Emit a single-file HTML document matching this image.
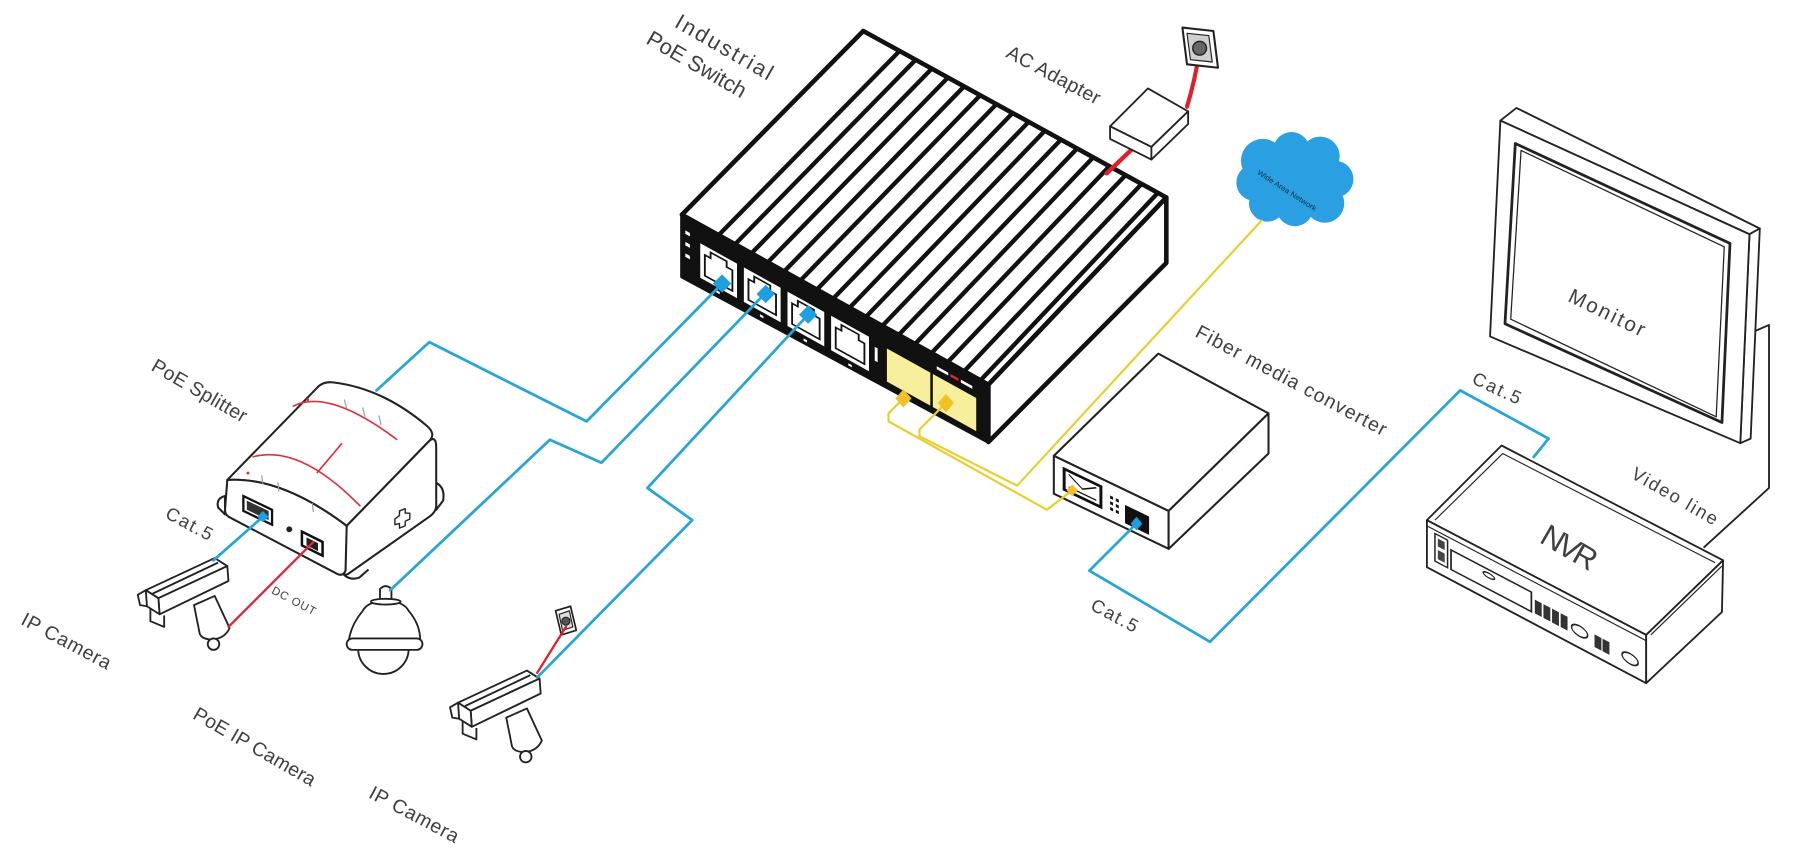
<!DOCTYPE html>
<html>
<head>
<meta charset="utf-8">
<style>
html,body{margin:0;padding:0;background:#fff;}
svg{display:block;}
text{font-family:"Liberation Sans",sans-serif;fill:#404040;}
</style>
</head>
<body>
<svg width="1800" height="860" viewBox="0 0 1568 749" preserveAspectRatio="none" xmlns="http://www.w3.org/2000/svg">
<rect x="0" y="0" width="1568" height="749" fill="#fff"/>

<!-- ================= INDUSTRIAL POE SWITCH ================= -->
<polygon points="594,187 752,27 1016,172 861,335" fill="#fff" stroke="#111" stroke-width="4" stroke-linejoin="round"/>
<g stroke="#111" stroke-width="3.8">
<line x1="626.0" y1="204.8" x2="783.6" y2="44.4"/>
<line x1="640.3" y1="212.7" x2="797.6" y2="52.1"/>
<line x1="654.6" y1="220.6" x2="811.6" y2="59.9"/>
<line x1="668.8" y1="228.5" x2="825.7" y2="67.6"/>
<line x1="683.1" y1="236.4" x2="839.7" y2="75.4"/>
<line x1="697.3" y1="244.3" x2="853.8" y2="83.1"/>
<line x1="711.6" y1="252.2" x2="867.8" y2="90.9"/>
<line x1="725.8" y1="260.1" x2="881.9" y2="98.6"/>
<line x1="740.1" y1="268.0" x2="895.9" y2="106.3"/>
<line x1="754.4" y1="275.9" x2="910.0" y2="114.1"/>
<line x1="768.6" y1="283.8" x2="924.0" y2="121.8"/>
<line x1="782.9" y1="291.7" x2="938.0" y2="129.6"/>
<line x1="797.1" y1="299.6" x2="952.1" y2="137.3"/>
<line x1="811.4" y1="307.5" x2="966.1" y2="145.1"/>
<line x1="825.6" y1="315.4" x2="980.2" y2="152.8"/>
<line x1="839.9" y1="323.3" x2="994.2" y2="160.5"/>
<line x1="854.2" y1="331.2" x2="1008.3" y2="168.3"/>
</g>
<polygon points="861,335 1016,172 1016,229 861,385" fill="#fff" stroke="#111" stroke-width="4" stroke-linejoin="round"/>
<polygon points="594,187 861,335 861,385 594,241" fill="#111" stroke="#111" stroke-width="3" stroke-linejoin="round"/>
<g transform="matrix(1,0.554,0,1,594,187)">
  <!-- LEDs -->
  <rect x="3" y="12" width="4" height="3" fill="#fff"/>
  <rect x="3" y="22" width="4" height="3" fill="#fff"/>
  <rect x="3" y="32" width="4" height="3" fill="#fff"/>
  <!-- RJ45 ports -->
  <g transform="translate(16,0)">
    <rect x="0" y="16" width="32" height="30" fill="#fff"/>
    <path d="M4,42 V24 H9 V19 H23 V24 H28 V42 Z" fill="none" stroke="#111" stroke-width="1.6"/>
  </g>
  <g transform="translate(54,0)">
    <rect x="0" y="16" width="32" height="30" fill="#fff"/>
    <path d="M4,42 V24 H9 V19 H23 V24 H28 V42 Z" fill="none" stroke="#111" stroke-width="1.6"/>
  </g>
  <g transform="translate(92,0)">
    <rect x="0" y="16" width="32" height="30" fill="#fff"/>
    <path d="M4,42 V24 H9 V19 H23 V24 H28 V42 Z" fill="none" stroke="#111" stroke-width="1.6"/>
  </g>
  <g transform="translate(130,0)">
    <rect x="0" y="16" width="33" height="30" fill="#fff"/>
    <path d="M4,42 V24 H9 V19 H24 V24 H29 V42 Z" fill="none" stroke="#111" stroke-width="1.6"/>
  </g>
  <rect x="30" y="49" width="3" height="2" fill="#fff"/>
  <rect x="68" y="49" width="3" height="2" fill="#fff"/>
  <rect x="106" y="49" width="3" height="2" fill="#fff"/>
  <rect x="145" y="49" width="3" height="2" fill="#fff"/>
  <rect x="168" y="22" width="2.5" height="12" fill="#fff"/>
  <!-- SFP -->
  <rect x="178" y="17" width="39" height="30" fill="#f7ef9c" stroke="#111" stroke-width="1.2"/>
  <rect x="218" y="17" width="39" height="30" fill="#f7ef9c" stroke="#111" stroke-width="1.2"/>
  <rect x="222" y="9" width="10" height="2.5" fill="#fff"/>
  <rect x="234" y="9" width="7" height="2.5" fill="#d8282c"/>
  <rect x="243" y="9" width="10" height="2.5" fill="#fff"/>
</g>

<!-- ================= AC ADAPTER ================= -->
<path d="M1045,44 Q1041,70 1034,93" fill="none" stroke="#e02028" stroke-width="3.6" stroke-linecap="round"/>
<path d="M985,131 L964,151" fill="none" stroke="#e02028" stroke-width="3.8" stroke-linecap="round"/>
<g fill="#fff" stroke="#222" stroke-width="1.6" stroke-linejoin="round">
  <polygon points="967,110 1000,77 1035,97 1003,128"/>
  <polygon points="967,110 1003,128 1003,139 967,121"/>
  <polygon points="1003,128 1035,97 1035,108 1003,139"/>
</g>
<g stroke="#222" stroke-linejoin="round">
  <polygon points="1030,24 1057,27 1061,59 1034,56" fill="#fff" stroke-width="1.8"/>
  <polygon points="1034,29 1053,31 1056,54 1037,52" fill="#cfcfcf" stroke-width="1"/>
  <circle cx="1045" cy="42" r="6" fill="#666" stroke-width="1.2"/>
</g>

<!-- ================= CLOUD ================= -->
<g fill="#2a9fe2">
  <circle cx="1128" cy="157" r="30"/>
  <circle cx="1100" cy="140" r="19"/>
  <circle cx="1125" cy="131" r="16"/>
  <circle cx="1150" cy="136" r="17"/>
  <circle cx="1163" cy="156" r="16"/>
  <circle cx="1154" cy="177" r="17"/>
  <circle cx="1128" cy="181" r="16"/>
  <circle cx="1104" cy="177" r="16"/>
  <circle cx="1093" cy="159" r="16"/>
</g>
<text transform="translate(1121,166) rotate(33)" text-anchor="middle" y="2" font-size="6.5" textLength="60" lengthAdjust="spacingAndGlyphs" style="fill:#10304a">Wide Area Network</text>

<!-- ================= FIBER MEDIA CONVERTER ================= -->
<g fill="#fff" stroke="#222" stroke-width="1.8" stroke-linejoin="round">
  <polygon points="918,397 1009,308 1105,360 1018,445"/>
  <polygon points="918,397 1018,445 1018,478 918,430"/>
  <polygon points="1018,445 1105,360 1105,395 1018,478"/>
</g>
<g transform="matrix(1,0.48,0,1,918,397)">
  <rect x="9" y="7" width="32" height="18" fill="#fff" stroke="#111" stroke-width="2.6"/>
  <path d="M13,10 L25,17 L37,10 M13,21 L37,21" stroke="#111" stroke-width="1.2" fill="none"/>
  <rect x="49" y="11" width="2.6" height="2.6" fill="#111"/>
  <rect x="54" y="11" width="2.6" height="2.6" fill="#111"/>
  <rect x="49" y="16" width="2.6" height="2.6" fill="#111"/>
  <rect x="54" y="16" width="2.6" height="2.6" fill="#111"/>
  <rect x="49" y="21" width="2.6" height="2.6" fill="#111"/>
  <rect x="54" y="21" width="2.6" height="2.6" fill="#111"/>
  <rect x="62" y="13" width="21" height="16" fill="#111"/>
</g>

<!-- ================= MONITOR ================= -->
<path d="M1525,290 L1541,283 L1541,425 L1484,477" fill="none" stroke="#222" stroke-width="1.6" stroke-linejoin="round"/>
<g fill="#fff" stroke="#222" stroke-width="1.6" stroke-linejoin="round">
  <polygon points="1307,105 1321,94 1533,199 1524,204"/>
  <polygon points="1524,204 1533,199 1525,382 1516,386"/>
  <polygon points="1307,105 1524,204 1516,386 1298,293"/>
  <polygon points="1320,125 1507,212 1500,368 1311,282" stroke-width="2.4"/>
  <polygon points="1325,131 1502,215 1495,363 1316,278" stroke-width="1.1"/>
</g>

<!-- ================= NVR ================= -->
<g fill="#fff" stroke="#222" stroke-width="1.6" stroke-linejoin="round">
  <polygon points="1308,388 1501,488 1434,553 1243,453"/>
  <polygon points="1243,453 1434,553 1434,595 1243,494"/>
  <polygon points="1434,553 1501,488 1500,533 1434,595"/>
</g>
<g fill="none" stroke="#222" stroke-width="1">
  <polyline points="1250,453 1309,395 1494,490"/>
  <line x1="1243" y1="458" x2="1434" y2="558"/>
  <line x1="1438" y1="553" x2="1500" y2="493"/>
</g>
<g transform="matrix(1,0.524,0,1,1243,453)" stroke="#222">
  <rect x="7" y="8" width="11" height="24" fill="#fff" stroke-width="1.3"/>
  <rect x="9.5" y="11" width="6" height="7" fill="#444" stroke="none"/>
  <rect x="9.5" y="21" width="6" height="8" fill="#444" stroke="none"/>
  <rect x="21" y="15" width="70" height="17" fill="none" stroke-width="1.5"/>
  <ellipse cx="54" cy="20" rx="5" ry="2" fill="none" stroke-width="1.2"/>
  <rect x="94" y="20" width="6" height="12" fill="#333" stroke="none"/>
  <rect x="101.5" y="20" width="6" height="12" fill="#333" stroke="none"/>
  <rect x="109" y="20" width="6" height="12" fill="#333" stroke="none"/>
  <rect x="116.5" y="20" width="6" height="12" fill="#333" stroke="none"/>
  <ellipse cx="133" cy="27" rx="7" ry="4.5" fill="none" stroke-width="1.3"/>
  <rect x="146" y="23" width="6" height="11" fill="#333" stroke="none"/>
  <rect x="153" y="23" width="6" height="11" fill="#333" stroke="none"/>
  <ellipse cx="177" cy="28" rx="7" ry="4.5" fill="none" stroke-width="1.3"/>
</g>

<!-- ================= POE SPLITTER ================= -->
<g fill="#fff" stroke="#222" stroke-width="1.8" stroke-linejoin="round">
  <path d="M196,432 Q188,434 190,442 L196,448 Z"/>
  <path d="M379,420 Q388,424 386,436 L380,444 Z"/>
  <path d="M198,418 L276,338 Q281,332 290,333 Q333,338 372,371 Q380,378 374,384 L302,458 Q245,415 198,418 Z"/>
  <path d="M302,458 L374,384 Q380,379 380,390 L380,440 Q380,446 374,450 L303,500 Q299,502 299,496 Z"/>
  <path d="M198,418 Q245,415 302,458 L301,497 Q299,502 294,500 L199,450 Q196,448 196,444 Z"/>
  <path d="M299,500 Q305,506 313,503 L321,496" fill="none"/>
  <path d="M344,452 l4,-3 l0,-4 l5,-2 l0,4 l4,0 l0,5 l-4,2 l0,4 l-5,2 l0,-4 l-4,1 Z" stroke-width="1.2"/>
</g>
<g fill="none" stroke="#d8323c" stroke-width="1.4">
  <path d="M255,354 Q285.5,337.5 346,383"/>
  <path d="M220,398 Q261,386.5 314,441"/>
  <path d="M276,412 L298,386"/>
</g>
<circle cx="216" cy="412" r="1.3" fill="#d8323c"/>
<circle cx="268" cy="348" r="1.3" fill="#d8323c"/>
<g stroke="#9a9a9a" stroke-width="1">
  <line x1="300" y1="348" x2="302" y2="356"/>
  <line x1="316" y1="355" x2="318" y2="363"/>
  <line x1="330" y1="362" x2="332" y2="370"/>
  <line x1="228" y1="414" x2="229" y2="422"/>
  <line x1="242" y1="420" x2="243" y2="428"/>
  <line x1="272" y1="438" x2="273" y2="446"/>
</g>
<polygon points="212,432 237,444 237,457 212,445" fill="#fff" stroke="#111" stroke-width="2"/>
<polygon points="215,436 234,445 234,453 215,444" fill="#333"/>
<circle cx="252" cy="461" r="2.6" fill="#222"/>
<polygon points="263,463 281,472 281,484 263,475" fill="#fff" stroke="#111" stroke-width="2.2"/>
<polygon points="267,468 277,473 277,480 267,475" fill="#222"/>

<!-- ================= CAMERAS ================= -->
<g fill="#fff" stroke="#222" stroke-width="1.6" stroke-linejoin="round">
  <path d="M169,527 L187,519 L200,547 Q196,556 185,557 Q176,557 174,552 Z"/>
  <circle cx="186" cy="561" r="5"/>
  <polygon points="127,514 187,486 198,493 138,521"/>
  <polygon points="138,521 198,493 199,506 139,535"/>
  <polygon points="127,514 138,521 139,535 128,528"/>
  <path d="M127,514 L120,518 L122,527 L128,528" fill="none"/>
  <path d="M131,530 L131,541 L143,546 L143,536" fill="none"/>
  <line x1="133" y1="517" x2="190" y2="490"/>
</g>
<g transform="translate(272,98)" fill="#fff" stroke="#222" stroke-width="1.6" stroke-linejoin="round">
  <path d="M169,527 L187,519 L200,547 Q196,556 185,557 Q176,557 174,552 Z"/>
  <circle cx="186" cy="561" r="5"/>
  <polygon points="127,514 187,486 198,493 138,521"/>
  <polygon points="138,521 198,493 199,506 139,535"/>
  <polygon points="127,514 138,521 139,535 128,528"/>
  <path d="M127,514 L120,518 L122,527 L128,528" fill="none"/>
  <path d="M131,530 L131,541 L143,546 L143,536" fill="none"/>
  <line x1="133" y1="517" x2="190" y2="490"/>
</g>
<!-- dome -->
<g fill="#fff" stroke="#222" stroke-width="1.6" stroke-linejoin="round">
  <path d="M312,565 A22,22 0 0 0 356,565 Z"/>
  <path d="M304,557 Q306,544 316,532 Q320,524 336,523 Q352,524 356,532 Q366,544 366,557 Z"/>
  <rect x="302" y="556" width="66" height="10" rx="5"/>
  <path d="M331,523 L331,513 Q336,508 341,513 L341,523"/>
  <ellipse cx="336" cy="524" rx="13" ry="2.5"/>
</g>
<!-- camera outlet -->
<g stroke="#222" stroke-linejoin="round">
  <polygon points="484,532 497,528 502,549 489,553" fill="#fff" stroke-width="1.5"/>
  <polygon points="487,535 496,532 499,546 490,549" fill="#ddd" stroke-width="1"/>
  <circle cx="493" cy="541" r="3.5" fill="#555" stroke-width="1"/>
</g>

<!-- ================= CABLES ================= -->
<g fill="none" stroke-linejoin="round" stroke-linecap="round">
  <!-- red -->
  <path d="M273,472 L199,546" stroke="#d8283a" stroke-width="2"/>
  <path d="M493,546 Q481,565 468,586" stroke="#e02028" stroke-width="2"/>
  <!-- blue -->
  <g stroke="#27a6d6" stroke-width="2.4">
    <polyline points="328,340 374,298 511,367 629,247"/>
    <polyline points="340,514 479,383 524,403 668,254"/>
    <polyline points="704,274 564,425 603,453 468,590"/>
    <polyline points="229,450 186,488"/>
    <polyline points="990,456 949,497 1054,559 1272,340 1349,382 1336,398"/>
  </g>
  <!-- yellow -->
  <g stroke="#e8cf2e" stroke-width="1.9">
    <polyline points="787,347 774,360 774,367 912,444 934,427"/>
    <polyline points="824,351 801,374 801,380 886,423 1099,192"/>
  </g>
</g>

<!-- connectors -->
<g fill="#1e9fe0">
  <polygon points="629,239 637,247 629,255 621,247"/>
  <polygon points="667,248 675,256 667,264 659,256"/>
  <polygon points="704,266 712,274 704,282 696,274"/>
  <polygon points="990,450 995,456 990,462 985,456"/>
  <polygon points="229,445 234,450 229,455 224,450"/>
</g>
<g fill="#f2c125">
  <polygon points="787,339 794,347 787,355 780,347"/>
  <polygon points="824,343 831,351 824,359 817,351"/>
  <polygon points="934,422 939,427 934,432 929,427"/>
</g>

<!-- ================= LABELS ================= -->
<text transform="translate(631,41) rotate(30)" text-anchor="middle" y="6.5" font-size="19" textLength="95" lengthAdjust="spacing">Industrial</text>
<text transform="translate(607,56) rotate(30)" text-anchor="middle" y="6.5" font-size="19" textLength="97" lengthAdjust="spacing">PoE Switch</text>
<text transform="translate(918,65) rotate(28)" text-anchor="middle" y="6" font-size="17" textLength="90" lengthAdjust="spacing">AC Adapter</text>
<text transform="translate(174,340) rotate(30)" text-anchor="middle" y="6" font-size="17" textLength="93" lengthAdjust="spacing">PoE Splitter</text>
<text transform="translate(165,456) rotate(28)" text-anchor="middle" y="5.5" font-size="16" textLength="44" lengthAdjust="spacing">Cat.5</text>
<text transform="translate(256,523) rotate(28)" text-anchor="middle" y="3.5" font-size="10" textLength="42" lengthAdjust="spacing">DC OUT</text>
<text transform="translate(58,558) rotate(28)" text-anchor="middle" y="6" font-size="17" textLength="86" lengthAdjust="spacing">IP Camera</text>
<text transform="translate(222,650) rotate(30)" text-anchor="middle" y="6" font-size="17" textLength="120" lengthAdjust="spacing">PoE IP Camera</text>
<text transform="translate(361,709) rotate(28)" text-anchor="middle" y="6" font-size="17" textLength="86" lengthAdjust="spacing">IP Camera</text>
<text transform="translate(1125,331) rotate(28)" text-anchor="middle" y="6" font-size="17" textLength="186" lengthAdjust="spacing">Fiber media converter</text>
<text transform="translate(1400,272) rotate(26)" text-anchor="middle" y="6.3" font-size="18" textLength="72" lengthAdjust="spacing">Monitor</text>
<text transform="translate(1304,338) rotate(25)" text-anchor="middle" y="5.5" font-size="16" textLength="45" lengthAdjust="spacing">Cat.5</text>
<text transform="translate(1459,432) rotate(30)" text-anchor="middle" y="5.5" font-size="16" textLength="84" lengthAdjust="spacing">Video line</text>
<text transform="translate(971,536) rotate(28)" text-anchor="middle" y="5.5" font-size="16" textLength="44" lengthAdjust="spacing">Cat.5</text>
<text transform="translate(1367,477) rotate(30)" text-anchor="middle" y="9" font-size="27" textLength="52" lengthAdjust="spacing">NVR</text>
</svg>
</body>
</html>
